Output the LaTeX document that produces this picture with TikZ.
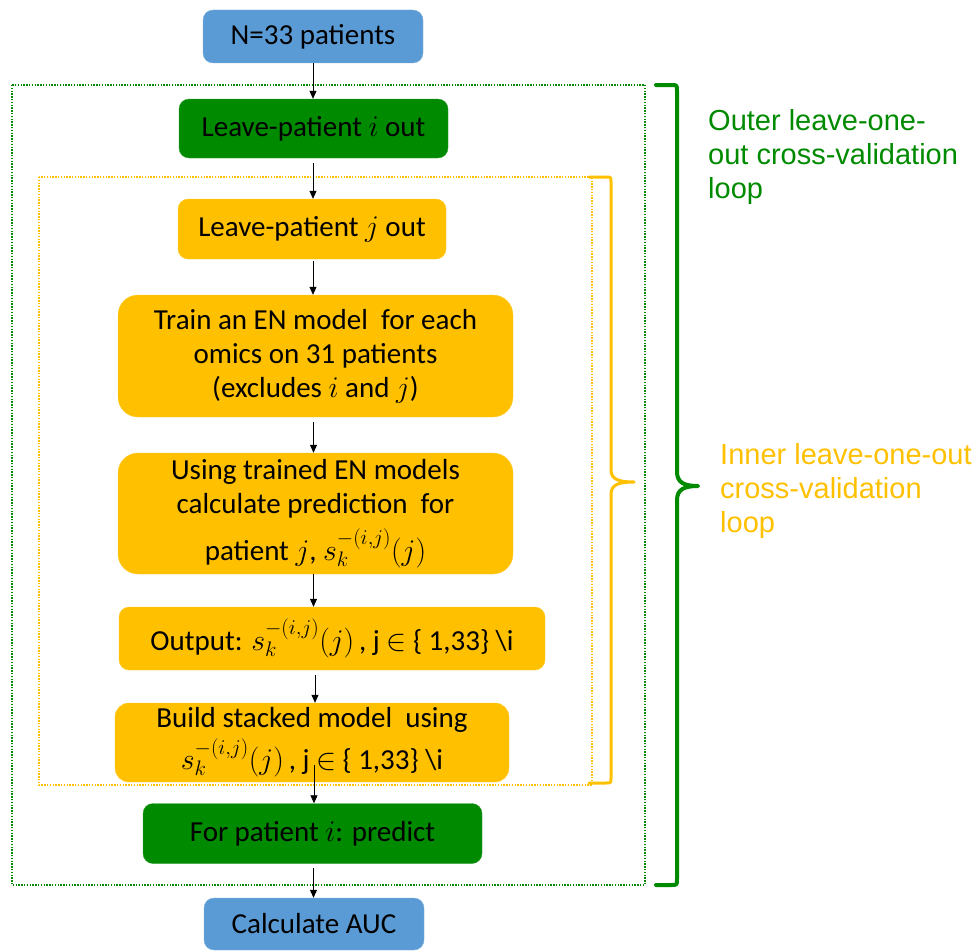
\RequirePackage{fix-cm}
\documentclass[tikz,border=0pt]{standalone}
\usepackage{fontspec}
\setmainfont{Carlito}
\newfontfamily\arialfont{Liberation Sans}
\usetikzlibrary{arrows.meta}
\definecolor{boxblue}{HTML}{5B9BD5}
\definecolor{boxgreen}{HTML}{008A00}
\definecolor{boxorange}{HTML}{FFC000}
\definecolor{txtgreen}{HTML}{008A00}
\newcommand{\mth}[1]{{\fontsize{30}{34}\selectfont$#1$}}
\newcommand{\skij}{\mth{s_k^{-(i,j)}(j)}}
\tikzset{
  flowbox/.style={rectangle, rounded corners=#1, inner sep=0pt, align=center,
    font=\fontsize{29}{34}\selectfont, text=black},
  flowbox/.default=10pt,
  bluebox/.style={flowbox, fill=boxblue, draw=boxblue!80!white},
  greenbox/.style={flowbox, fill=boxgreen, draw=boxgreen!80!white},
  orangebox/.style={flowbox=#1, fill=boxorange, draw=boxorange!80!white},
  orangebox/.default=10pt,
  arr/.style={draw=black, line width=0.8pt, -{Triangle[length=8pt,width=7pt]}},
  dotbox/.style={line width=1.4pt, dash pattern=on 1.4pt off 1.4pt},
  bracepath/.style={line width=#1, line cap=round, line join=round},
  sidelabel/.style={anchor=base west, align=left, inner sep=0pt,
    font=\arialfont\fontsize{29}{34}\selectfont}
}
\begin{document}
\begin{tikzpicture}[x=1pt,y=-1pt]
\useasboundingbox (0,0) rectangle (979,950);

% loops (dotted frames)
\draw[dotbox, draw=txtgreen] (12,85) rectangle (645,885);
\draw[dotbox, draw=boxorange] (39,177) rectangle (592,785);

% nodes
\node[bluebox, minimum width=220pt, minimum height=53pt] (n33) at (313,36.5) {N=33 patients};
\node[greenbox, minimum width=269pt, minimum height=59pt] (leavei) at (313.5,128.5) {Leave-patient \mth{i} out};
\node[orangebox, minimum width=268pt, minimum height=60pt] (leavej) at (312,229) {Leave-patient \mth{j} out};
\node[orangebox=20pt, minimum width=395pt, minimum height=122pt] (train) at (315.5,356)
  {Train an EN model\ \ for each\\omics on 31 patients\\(excludes \mth{i} and \mth{j})};
\node[orangebox=20pt, minimum width=395pt, minimum height=121pt] (using) at (315.5,513.5)
  {Using trained EN models\\calculate prediction\ \ for\\[10pt]patient \mth{j}, \skij};
\node[orangebox, minimum width=426pt, minimum height=63pt] (output) at (332,638.5)
  {Output: \skij\,, j \mth{\in} \{ 1,33\} \textbackslash i};
\node[orangebox=14pt, minimum width=394pt, minimum height=79pt] (build) at (312,742.5)
  {Build stacked model\ \ using\\[5pt]\skij\,, j \mth{\in} \{ 1,33\} \textbackslash i};
\node[greenbox, minimum width=339pt, minimum height=60pt] (forpat) at (312.5,833.5) {For patient \mth{i}: predict};
\node[bluebox, minimum width=220pt, minimum height=52pt] (auc) at (314,924) {Calculate AUC};

% connectors
\draw[arr] (n33.south) -- (n33.south |- leavei.north);
\draw[arr] ([xshift=-0.5pt,yshift=-5pt]leavei.south) -- ([xshift=-0.5pt]leavei.south |- leavej.north);
\draw[arr] ([xshift=1pt,yshift=-2pt]leavej.south) -- ([xshift=1pt]leavej.south |- train.north);
\draw[arr] ([xshift=-2pt,yshift=-5pt]train.south) -- ([xshift=-2pt]train.south |- using.north);
\draw[arr] ([xshift=-2pt]using.south) -- ([xshift=-2pt]using.south |- output.north);
\draw[arr] ([xshift=-17pt,yshift=-5pt]output.south) -- ([xshift=-17pt]output.south |- build.north);
\coordinate (bstart) at ([xshift=2pt,yshift=17pt]build.south);
\draw[arr] (bstart) -- (bstart |- forpat.north);
\draw[arr] ([xshift=1pt,yshift=-4pt]forpat.south) -- ([xshift=1pt]forpat.south |- auc.north);

% braces
\draw[bracepath=3pt, draw=boxorange]
  (589,177) -- (606,177) .. controls (611,177) .. (611,182) -- (611,470)
  .. controls (611,480) and (620,482) .. (634,482)
  .. controls (620,482) and (611,484) .. (611,494) -- (611,778)
  .. controls (611,783) .. (606,783) -- (589,783);
\draw[bracepath=4pt, draw=txtgreen]
  (656,85) -- (671,85) .. controls (677,85) .. (677,91) -- (677,472)
  .. controls (677,483) and (685,486) .. (698,486)
  .. controls (685,486) and (677,489) .. (677,500) -- (677,879)
  .. controls (677,885) .. (671,885) -- (656,885);

% side labels (anchor at baseline of last line)
\node[sidelabel, text=txtgreen] (outerlbl) at (708,198)
  {Outer leave-one-\\out cross-validation\\loop};
\node[sidelabel, text=boxorange] (innerlbl) at (720,532)
  {Inner leave-one-out\\cross-validation\\loop};
\end{tikzpicture}
\end{document}
